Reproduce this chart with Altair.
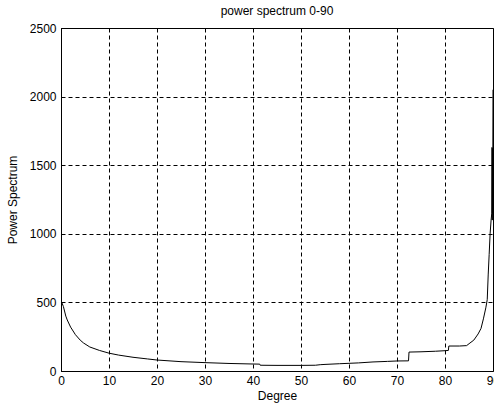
import altair as alt
import pandas as pd

degree = [0.0, 0.03, 0.06, 0.1, 0.5, 1.0, 1.3, 2.0, 3.0, 4.0, 4.7, 6.0, 8.0, 10.0, 12.0,
          15.0, 18.0, 20.0, 25.0, 30.0, 35.0, 40.0, 41.4, 41.5, 45.0, 50.0, 53.0, 54.0,
          55.0, 58.0, 60.0, 62.0, 65.0, 68.0, 70.0, 72.4, 72.5, 75.0, 78.0, 80.0, 80.7,
          80.8, 83.0, 84.5, 85.2, 86.0, 86.9, 87.5, 88.0, 88.5, 88.8, 89.0, 89.2, 89.4,
          89.6, 89.75, 89.8, 89.85, 89.9, 89.95, 89.97, 90.0]
power = [250, 365, 255, 505, 470, 400, 372, 320, 265, 225, 204, 175, 150, 130, 116,
         100, 88, 80, 68, 61, 55, 51, 50, 42, 41, 41, 42, 46,
         48, 53, 56, 59, 66, 70, 73, 74, 138, 140, 144, 148, 150,
         182, 182, 185, 204, 225, 270, 310, 380, 460, 520, 700, 850, 1000,
         1100, 1150, 1630, 1100, 1620, 1150, 1630, 2050]

df = pd.DataFrame({"deg": degree, "pw": power, "idx": list(range(len(degree)))})

line = alt.Chart(df).mark_line(color="black", strokeWidth=1, clip=True).encode(
    x=alt.X("deg:Q", scale=alt.Scale(domain=[0, 90], nice=False, zero=False),
            axis=alt.Axis(values=list(range(0, 91, 10)), title="Degree", format="d",
                          labelPadding=4, titlePadding=4)),
    y=alt.Y("pw:Q", scale=alt.Scale(domain=[0, 2500], nice=False),
            axis=alt.Axis(values=list(range(0, 2501, 500)), title="Power Spectrum", format="d",
                          labelPadding=5, titlePadding=10)),
    order=alt.Order("idx:Q"),
)

chart = line.properties(
    width=432, height=343,
    background="white",
    title=alt.TitleParams("power spectrum 0-90", fontSize=12, fontWeight="normal",
                          font="Liberation Sans", color="black", offset=4),
    autosize=alt.AutoSizeParams(type="none"),
    padding={"left": 61, "top": 28, "right": 1, "bottom": 39},
).configure_view(stroke="black", strokeWidth=1).configure_axis(
    grid=True, gridColor="black", gridDash=[4, 3], gridOpacity=1, gridWidth=1,
    domain=True, domainColor="black", ticks=False,
    labelFont="Liberation Sans", labelFontSize=12, labelColor="black",
    titleFont="Liberation Sans", titleFontSize=12, titleFontWeight="normal", titleColor="black",
    labelFlush=False, labelOverlap=False,
)

chart.save("out.html", embed_options={"renderer": "svg", "actions": False})
